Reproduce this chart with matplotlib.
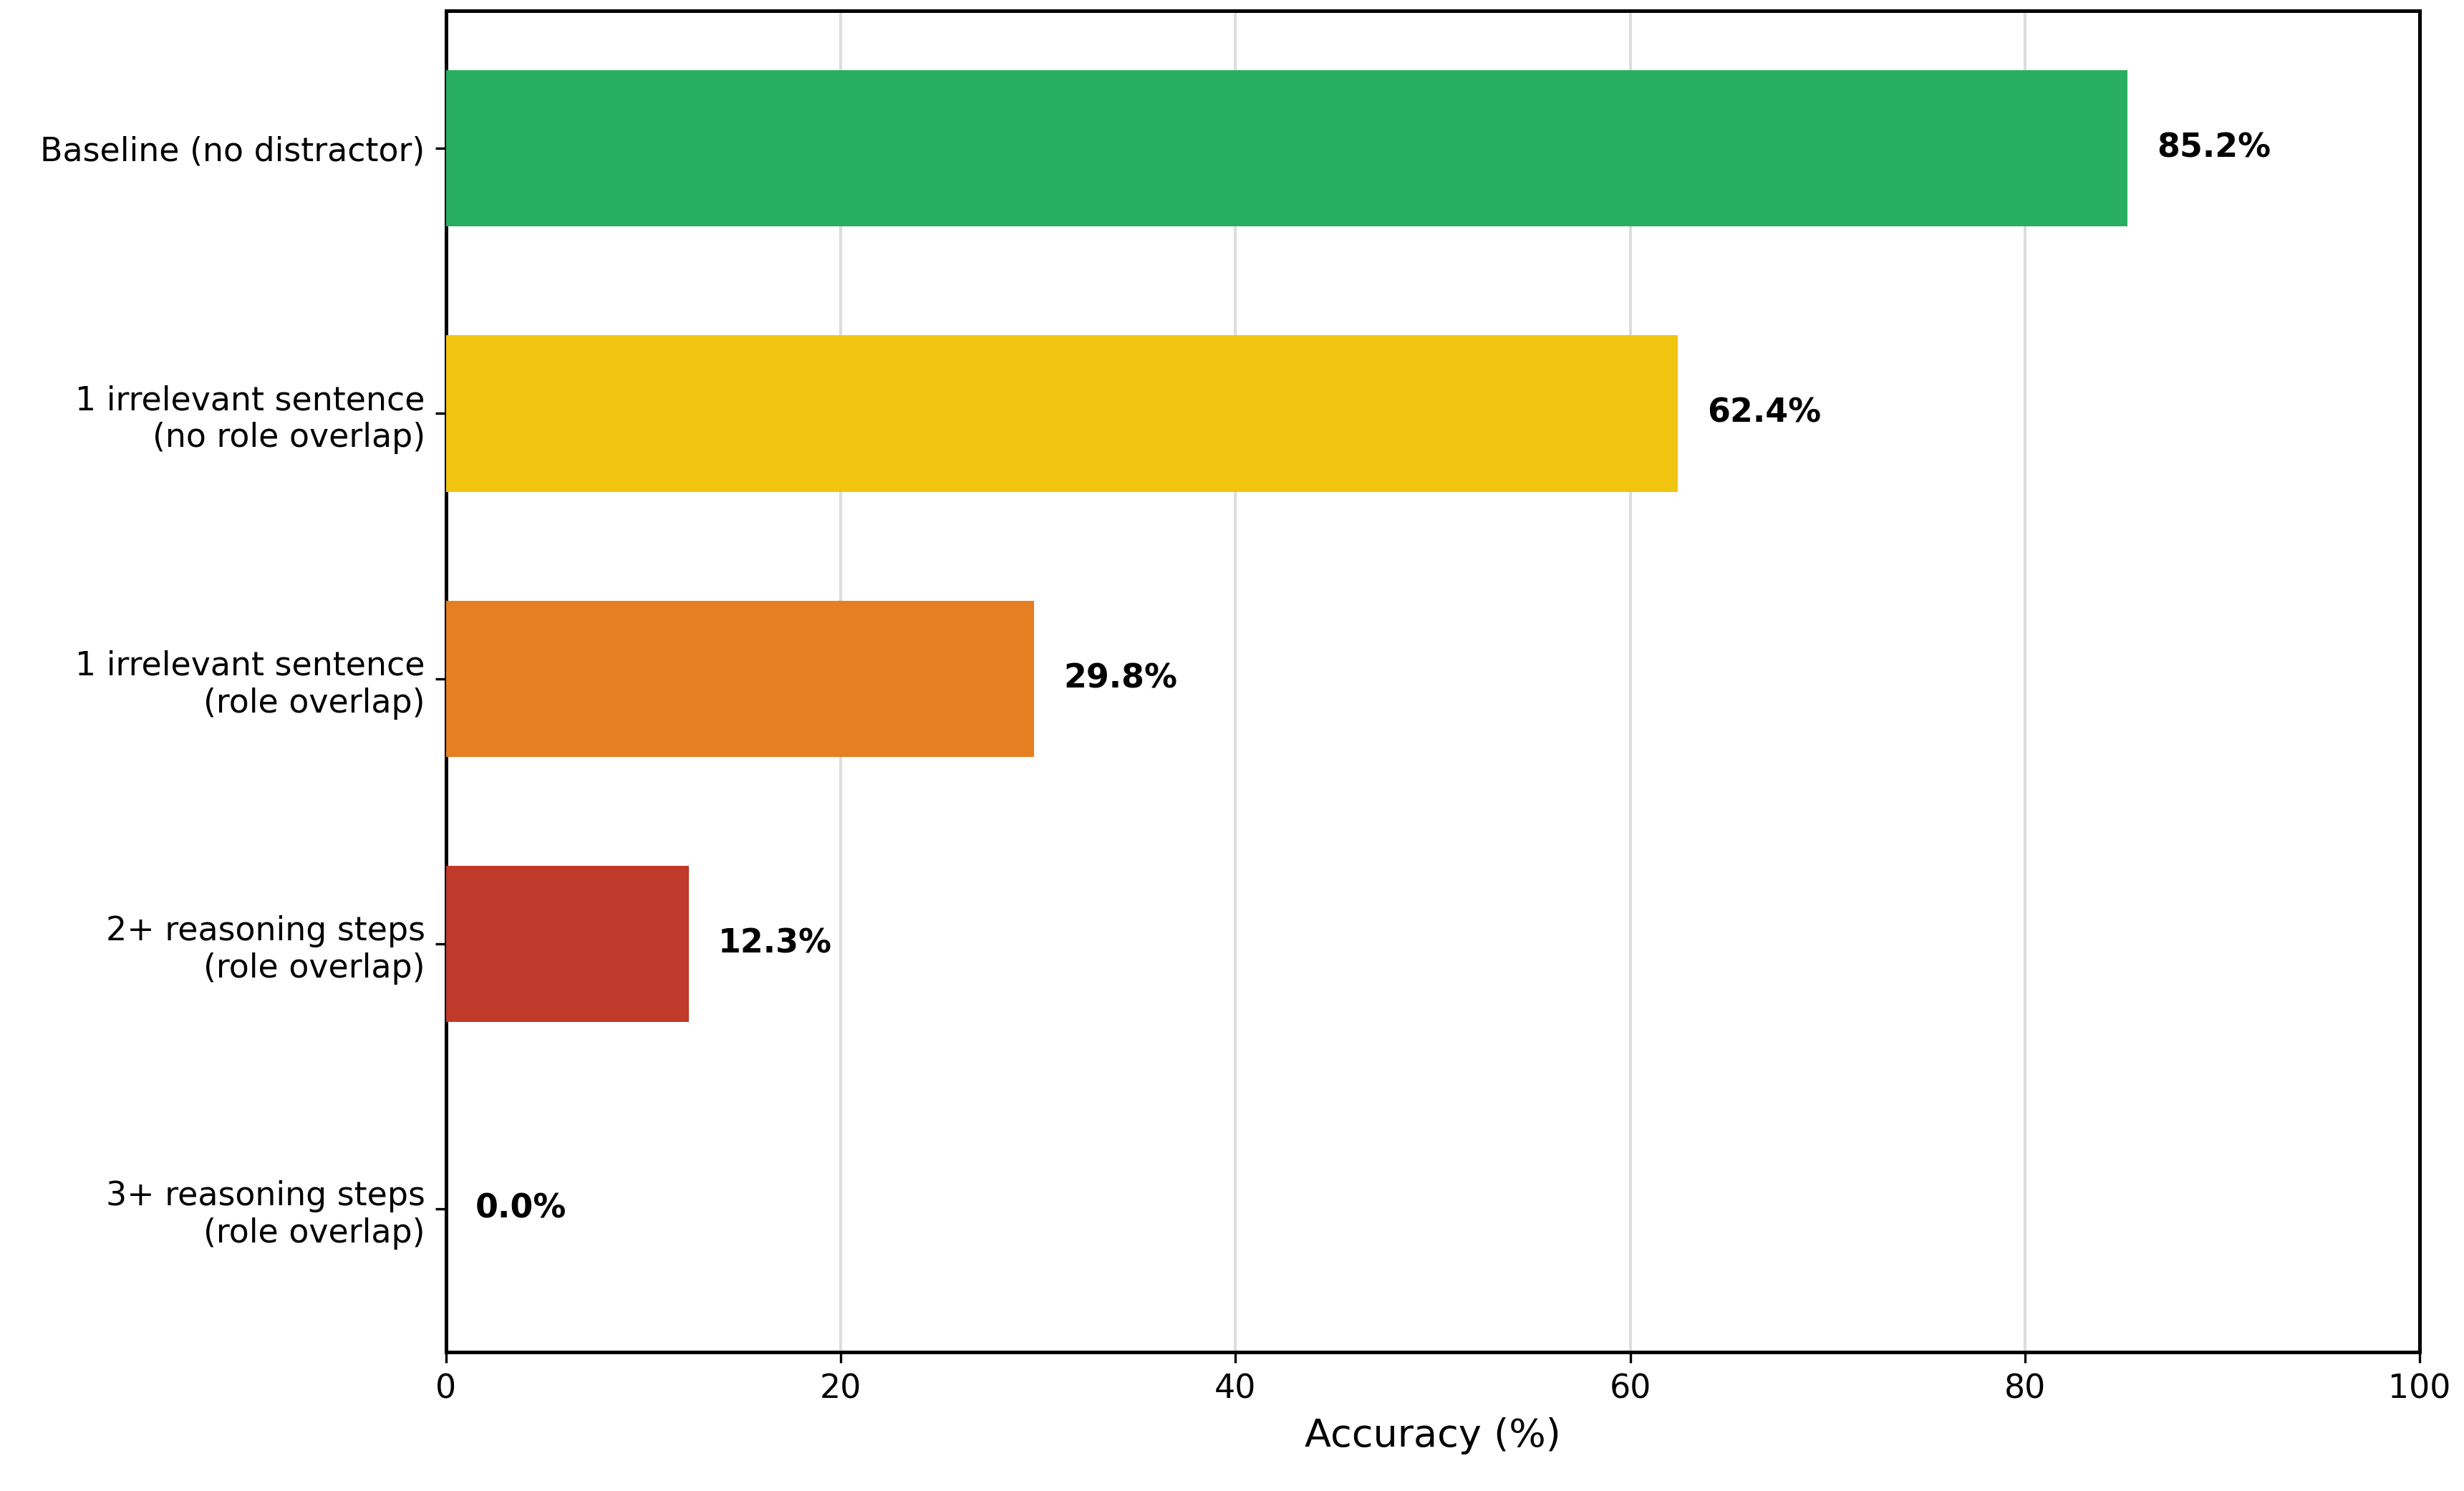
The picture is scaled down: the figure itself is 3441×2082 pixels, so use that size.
import matplotlib.pyplot as plt

categories = ["Baseline (no distractor)",
              "1 irrelevant sentence\n(no role overlap)",
              "1 irrelevant sentence\n(role overlap)",
              "2+ reasoning steps\n(role overlap)",
              "3+ reasoning steps\n(role overlap)"]
accuracy = [85.2, 62.4, 29.8, 12.3, 0.0]
colors = ["#27ae60", "#f1c40f", "#e67e22", "#c0392b", "#8e44ad"]

fig = plt.figure(figsize=(3441 / 300, 2082 / 300), dpi=300)
ax = fig.add_axes([0.181, 0.093, 0.801, 0.9])

ypos = list(range(len(categories)))
ax.barh(ypos, accuracy, height=0.59, color=colors, zorder=3)
for y, v in zip(ypos, accuracy):
    ax.text(v + 1.5, y, f"{v:.1f}%", va="center", ha="left",
            fontsize=11, fontweight="bold")

ax.set_yticks(ypos)
ax.set_yticklabels(categories, fontsize=11)
ax.set_ylim(4.54, -0.52)
ax.set_xlim(0, 100)
ax.tick_params(axis="x", labelsize=11)
ax.set_xlabel("Accuracy (%)", fontsize=13)
ax.grid(axis="x", color="#dddddd", linewidth=1, zorder=0)
for s in ax.spines.values():
    s.set_linewidth(1.2)

fig.savefig("out.png", dpi=300)
